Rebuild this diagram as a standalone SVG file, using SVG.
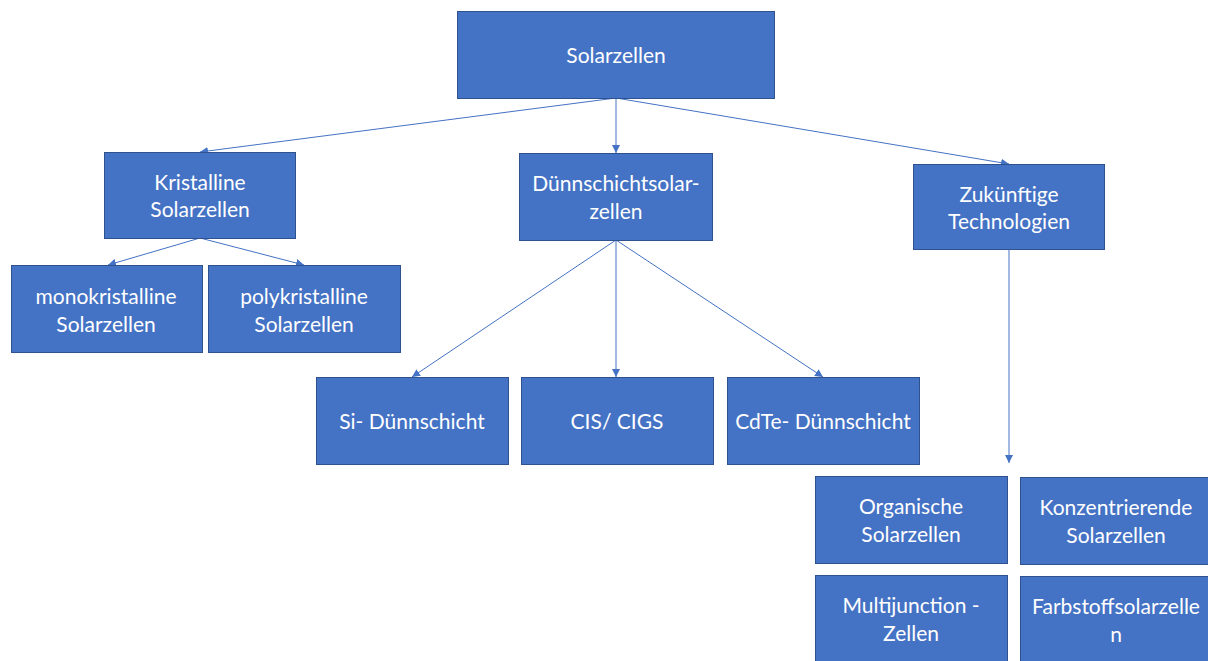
<svg xmlns="http://www.w3.org/2000/svg" width="1208" height="661" viewBox="0 0 1208 661">
<style>
.box{fill:#4472C4;stroke:#2F528F;stroke-width:1}
.t{font-family:Lato,"Liberation Sans",sans-serif;font-size:21px;fill:#ffffff;text-anchor:middle}
.c{stroke:#4472C4;stroke-width:1;fill:none;marker-end:url(#a)}
</style>
<defs>
<marker id="a" viewBox="0 0 10 10" refX="10" refY="5" markerWidth="8" markerHeight="8" markerUnits="userSpaceOnUse" orient="auto">
<path d="M0,0 L10,5 L0,10 z" fill="#4472C4"/>
</marker>
</defs>
<rect width="1208" height="661" fill="#ffffff"/>
<g id="connectors">
<line class="c" x1="616" y1="98" x2="200" y2="152"/>
<line class="c" x1="616" y1="98" x2="616" y2="153"/>
<line class="c" x1="616" y1="98" x2="1009" y2="164"/>
<line class="c" x1="200" y1="238" x2="108" y2="265"/>
<line class="c" x1="200" y1="238" x2="304" y2="265"/>
<line class="c" x1="616" y1="240" x2="412" y2="377"/>
<line class="c" x1="616" y1="240" x2="616" y2="377"/>
<line class="c" x1="616" y1="240" x2="823" y2="377"/>
<line class="c" x1="1009" y1="249" x2="1009" y2="463"/>
</g>
<g id="solarzellen"><rect class="box" x="457.5" y="11.5" width="317" height="87"/><text class="t" x="616" y="63">Solarzellen</text></g>
<g id="kristalline"><rect class="box" x="104.5" y="152.5" width="191" height="86"/><text class="t" x="200" y="190">Kristalline</text><text class="t" x="200" y="217">Solarzellen</text></g>
<g id="duennschicht"><rect class="box" x="519.5" y="153.5" width="193" height="87"/><text class="t" x="616" y="191">Dünnschichtsolar-</text><text class="t" x="616" y="219">zellen</text></g>
<g id="zukuenftig"><rect class="box" x="913.5" y="164.5" width="191" height="85"/><text class="t" x="1009" y="202">Zukünftige</text><text class="t" x="1009" y="229">Technologien</text></g>
<g id="mono"><rect class="box" x="11.5" y="265.5" width="191" height="87"/><text class="t" x="106" y="304">monokristalline</text><text class="t" x="106" y="332">Solarzellen</text></g>
<g id="poly"><rect class="box" x="208.5" y="265.5" width="192" height="87"/><text class="t" x="304" y="304">polykristalline</text><text class="t" x="304" y="332">Solarzellen</text></g>
<g id="si"><rect class="box" x="316.5" y="377.5" width="192" height="87"/><text class="t" x="412" y="429">Si- Dünnschicht</text></g>
<g id="cis"><rect class="box" x="521.5" y="377.5" width="192" height="87"/><text class="t" x="617" y="429">CIS/ CIGS</text></g>
<g id="cdte"><rect class="box" x="727.5" y="377.5" width="192" height="87"/><text class="t" x="823" y="429">CdTe- Dünnschicht</text></g>
<g id="organisch"><rect class="box" x="815.5" y="476.5" width="192" height="87"/><text class="t" x="911" y="514">Organische</text><text class="t" x="911" y="542">Solarzellen</text></g>
<g id="konzentrierend"><rect class="box" x="1020.5" y="477.5" width="190" height="87"/><text class="t" x="1116" y="515">Konzentrierende</text><text class="t" x="1116" y="543">Solarzellen</text></g>
<g id="multijunction"><rect class="box" x="815.5" y="575.5" width="192" height="90"/><text class="t" x="911" y="613">Multijunction -</text><text class="t" x="911" y="641">Zellen</text></g>
<g id="farbstoff"><rect class="box" x="1020.5" y="576.5" width="190" height="90"/><text class="t" x="1116" y="614">Farbstoffsolarzelle</text><text class="t" x="1116" y="642">n</text></g>
</svg>
